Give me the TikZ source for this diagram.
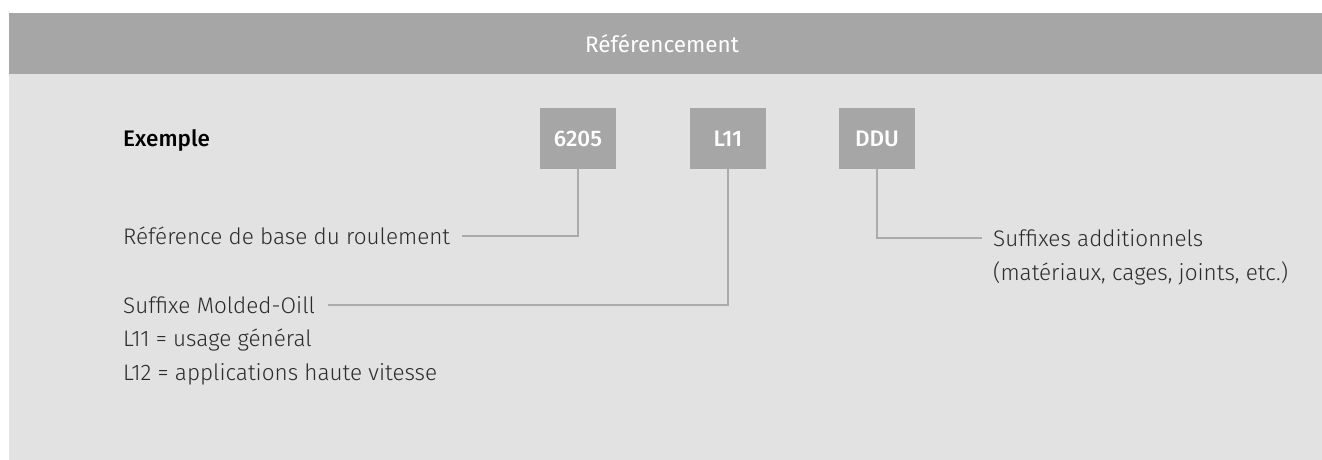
\documentclass[tikz,border=0pt]{standalone}
\usepackage{fontspec}
\setmainfont{Fira Sans Light}[BoldFont=Fira Sans Medium]
\newfontfamily\firareg{Fira Sans}
\definecolor{hdr}{HTML}{A6A6A6}
\definecolor{panel}{HTML}{E2E2E2}
\definecolor{ln}{HTML}{ABABAB}
\definecolor{txt}{HTML}{2A2A2A}
\tikzset{
  lbl/.style={anchor=west, inner sep=0pt, text height=16pt, text depth=0pt, text=txt, font=\fontsize{22.5}{27}\selectfont},
  codebox/.style={fill=hdr, minimum width=76pt, minimum height=61pt, inner sep=0pt, text=white, font=\fontsize{22.5}{27}\selectfont\bfseries},
  conn/.style={draw=ln, line width=2.2pt}
}
\begin{document}
\begin{tikzpicture}[x=1pt,y=-1pt]
\useasboundingbox (0,0) rectangle (1322,460);
\fill[panel] (9,74) rectangle (1322,460);
\fill[hdr] (9,13) rectangle (1322,74);
\node[inner sep=0pt, text=white, font=\firareg\fontsize{22.5}{27}\selectfont] (title) at (662,43.5) {Référencement};

\node[anchor=base west, inner sep=0pt, text=black, font=\fontsize{22.5}{27}\selectfont\bfseries] (ex) at (123,146) {Exemple};

\node[codebox] (b6205) at (578,138.5) {6205};
\node[codebox] (bL11) at (728,138.5) {L11};
\node[codebox] (bDDU) at (877,138.5) {DDU};

\node[lbl] (ref) at (123,236) {Référence de base du roulement};
\node[lbl] (suf) at (123,305) {Suffixe Molded-Oill};
\node[lbl] (l11) at (123,338) {L11 = usage général};
\node[lbl] (l12) at (123,372) {L12 = applications haute vitesse};
\node[lbl] (add) at (993,238) {Suffixes additionnels};
\node[lbl] (add2) at (993,272) {(matériaux, cages, joints, etc.)};

\draw[conn] (b6205.south) |- ([xshift=12pt]ref.east);
\draw[conn] (bL11.south) |- ([xshift=13pt]suf.east);
\draw[conn] (bDDU.south) |- ([xshift=-11pt]add.west);
\end{tikzpicture}
\end{document}
